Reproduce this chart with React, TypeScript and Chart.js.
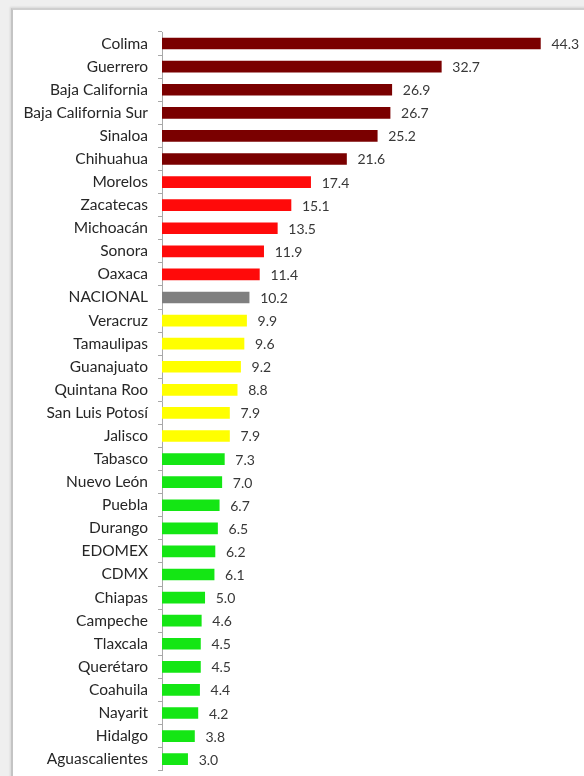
import React, { useEffect, useRef } from "react";
import { Chart, registerables } from "chart.js";

Chart.register(...registerables);

const categories = [
  "Colima", "Guerrero", "Baja California", "Baja California Sur", "Sinaloa", "Chihuahua",
  "Morelos", "Zacatecas", "Michoacán", "Sonora", "Oaxaca", "NACIONAL",
  "Veracruz", "Tamaulipas", "Guanajuato", "Quintana Roo", "San Luis Potosí", "Jalisco",
  "Tabasco", "Nuevo León", "Puebla", "Durango", "EDOMEX", "CDMX",
  "Chiapas", "Campeche", "Tlaxcala", "Querétaro", "Coahuila", "Nayarit", "Hidalgo", "Aguascalientes",
];

const values = [
  44.3, 32.7, 26.9, 26.7, 25.2, 21.6,
  17.4, 15.1, 13.5, 11.9, 11.4, 10.2,
  9.9, 9.6, 9.2, 8.8, 7.9, 7.9,
  7.3, 7.0, 6.7, 6.5, 6.2, 6.1,
  5.0, 4.6, 4.5, 4.5, 4.4, 4.2, 3.8, 3.0,
];

const groups = [
  "darkred", "darkred", "darkred", "darkred", "darkred", "darkred",
  "red", "red", "red", "red", "red", "nacional",
  "yellow", "yellow", "yellow", "yellow", "yellow", "yellow",
  "green", "green", "green", "green", "green", "green",
  "green", "green", "green", "green", "green", "green", "green", "green",
];

const groupColors: Record<string, string> = {
  darkred: "#7a0000",
  red: "#ff0a0a",
  nacional: "#7f7f7f",
  yellow: "#ffff00",
  green: "#14e614",
};

const FONT = "Lato, 'Open Sans', sans-serif";

const valueLabels = {
  id: "valueLabels",
  afterDatasetsDraw(chart: any) {
    const ctx = chart.ctx;
    const meta = chart.getDatasetMeta(0);
    ctx.save();
    ctx.font = `14px ${FONT}`;
    ctx.fillStyle = "#383838";
    ctx.textBaseline = "middle";
    ctx.textAlign = "left";
    meta.data.forEach((bar: any, i: number) => {
      ctx.fillText(values[i].toFixed(1), bar.x + 11, bar.y + 1);
    });
    ctx.restore();
  },
};

export default function App() {
  const ref = useRef<HTMLCanvasElement>(null);
  useEffect(() => {
    if (!ref.current) return;
    const chart = new Chart(ref.current, {
      type: "bar",
      data: {
        labels: categories,
        datasets: [
          {
            data: values,
            backgroundColor: groups.map((g) => groupColors[g]),
            barThickness: 11,
            borderWidth: 0,
          },
        ],
      },
      options: {
        indexAxis: "y",
        animation: false,
        responsive: false,
        maintainAspectRatio: false,
        layout: { padding: { top: 32, bottom: 5, right: 12, left: 0 } },
        plugins: { legend: { display: false }, tooltip: { enabled: false } },
        scales: {
          x: { display: false, min: 0, max: 48 },
          y: {
            afterFit: (scale: any) => {
              scale.width = 162;
            },
            grid: {
              drawOnChartArea: false,
              tickLength: 4,
              color: "#a8a8a8",
              offset: true,
            },
            border: { display: true, color: "#a8a8a8", width: 1 },
            ticks: {
              color: "#262626",
              font: { family: FONT, size: 15.5 },
              padding: 10,
              autoSkip: false,
            },
          },
        },
      },
      plugins: [valueLabels],
    });
    return () => chart.destroy();
  }, []);

  return (
    <div
      style={{
        position: "fixed",
        left: 0,
        top: 0,
        width: 584,
        height: 776,
        background: "#efefef",
        overflow: "hidden",
      }}
    >
      <div
        style={{
          position: "absolute",
          left: 11,
          top: 8,
          width: 600,
          height: 800,
          background: "#ffffff",
          borderLeft: "2px solid #c4c4c4",
          borderTop: "2px solid #cfcfcf",
          boxShadow: "-1px -1px 2px rgba(0,0,0,0.1)",
        }}
      />
      <canvas
        ref={ref}
        width={584}
        height={790}
        style={{ position: "absolute", left: 0, top: 0, width: 584, height: 790 }}
      />
    </div>
  );
}
